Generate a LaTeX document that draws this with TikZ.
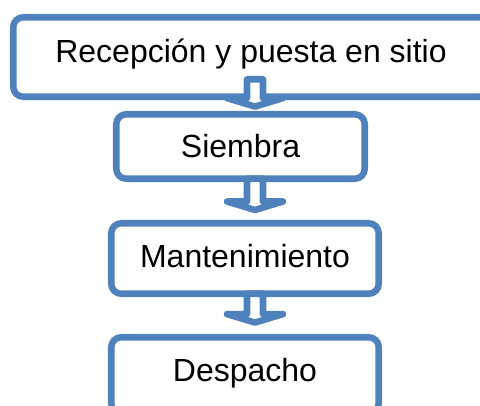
\documentclass[tikz,border=0pt]{standalone}
\usepackage{fontspec}
\setmainfont{Liberation Sans}
\usetikzlibrary{calc}
\definecolor{azul}{HTML}{4F81BD}

% block arrow from start point #1 down to tip #2
\newcommand{\flecha}[2]{%
  \draw[flechabloque] ($(#1)+(-8,0)$) -- ($(#1)+(8,0)$) -- ($(#2)+(8,-8.5)$)
    -- ($(#2)+(28,-8.5)$) -- (#2) -- ($(#2)+(-28,-8.5)$) -- ($(#2)+(-8,-8.5)$) -- cycle;}

\begin{document}
\begin{tikzpicture}[x=0.75pt, y=-0.75pt,
  caja/.style={draw=azul, line width=4.9pt, fill=white, rounded corners=7.5pt,
    inner sep=0pt, outer sep=0pt, font=\fontsize{24}{28}\selectfont,
    text height=18pt, text depth=4.8pt},
  flechabloque/.style={draw=azul, line width=4.9pt, fill=white, line join=round}]

  \useasboundingbox (0,0) rectangle (480,405);
  \clip (0,0) rectangle (480,405);

  % Boxes
  \node[caja, minimum width=475.5*0.75pt, minimum height=79.5*0.75pt, text depth=10.5pt] (R) at (251,57) {Recepción y puesta en sitio};
  \node[caja, minimum width=248.5*0.75pt, minimum height=64.5*0.75pt, text depth=1pt] (S) at (240.5,146.5) {Siembra};
  \node[caja, minimum width=267.5*0.75pt, minimum height=70.5*0.75pt, text depth=5.25pt] (M) at (245,258.5) {Mantenimiento};
  \node[caja, minimum width=267.5*0.75pt, minimum height=76*0.75pt, text depth=7.9pt] (D) at (245,375.25) {Despacho};

  % Arrow ends
  \coordinate (eje) at (255,0);
  \coordinate (a1) at ($(eje |- R.south)+(0,-17.5)$);
  \coordinate (t1) at ($(eje |- S.north)+(0,-7.65)$);
  \coordinate (a2) at (eje |- S.south);
  \coordinate (t2) at ($(eje |- M.north)+(0,-13.25)$);
  \coordinate (a3) at (eje |- M.south);
  \coordinate (t3) at ($(eje |- D.north)+(0,-14.65)$);

  % Arrows
  \flecha{a1}{t1}
  \flecha{a2}{t2}
  \flecha{a3}{t3}

\end{tikzpicture}
\end{document}
